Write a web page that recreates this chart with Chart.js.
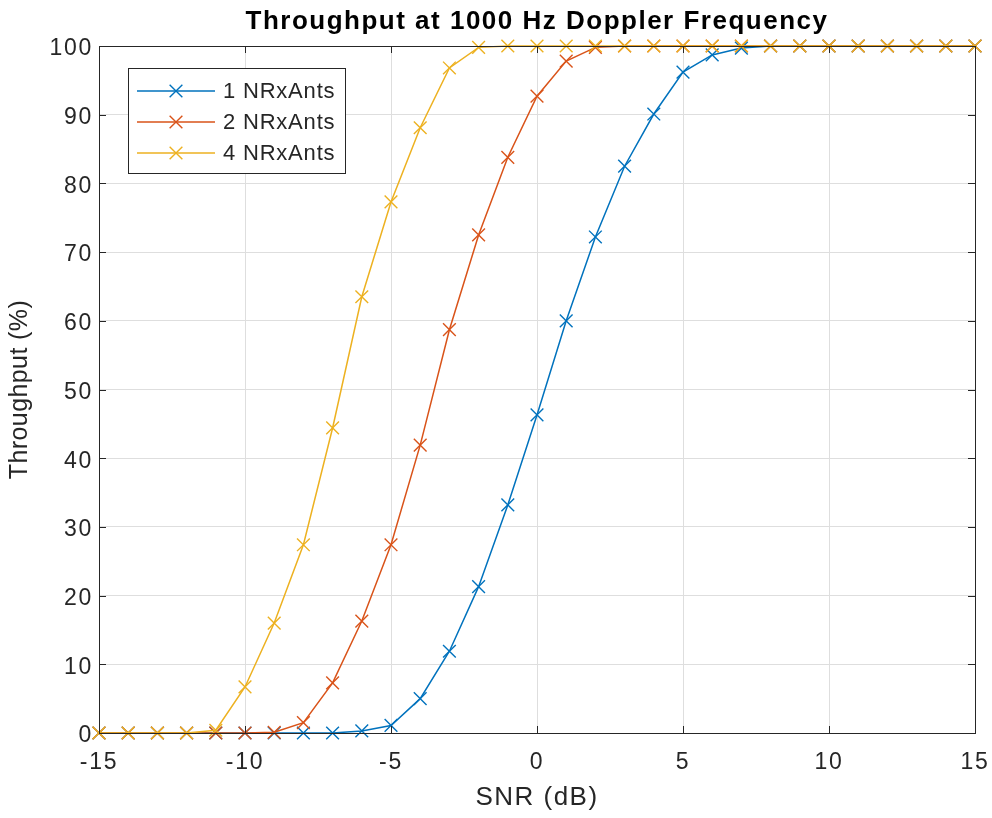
<!DOCTYPE html>
<html>
<head>
<meta charset="utf-8">
<script src="https://cdn.jsdelivr.net/npm/chart.js@4/dist/chart.umd.min.js"></script>
<style>
  html, body { margin: 0; padding: 0; background: #ffffff; }
  #wrap { width: 992px; height: 818px; position: relative; }
</style>
</head>
<body>
<div id="wrap"><canvas id="c" width="992" height="818"></canvas></div>
<script>
// ---- data ----
const snr = [-15,-14,-13,-12,-11,-10,-9,-8,-7,-6,-5,-4,-3,-2,-1,0,1,2,3,4,5,6,7,8,9,10,11,12,13,14,15];
const ant1 = [0,0,0,0,0,0,0,0,0,0.3,1.1,5.0,11.9,21.3,33.2,46.3,60.0,72.2,82.5,90.1,96.2,98.7,99.7,100,100,100,100,100,100,100,100];
const ant2 = [0,0,0,0,0,0,0.1,1.5,7.3,16.3,27.4,41.9,58.7,72.5,83.8,92.7,97.8,99.8,100,100,100,100,100,100,100,100,100,100,100,100,100];
const ant4 = [0,0,0,0,0.4,6.7,16.0,27.4,44.4,63.5,77.3,88.1,96.8,99.8,100,100,100,100,100,100,100,100,100,100,100,100,100,100,100,100,100];
const seriesNames = ['1 NRxAnts', '2 NRxAnts', '4 NRxAnts'];
const seriesColors = ['#0072BD', '#D95319', '#EDB120'];
const xTicks = [-15,-10,-5,0,5,10,15];
const yTicks = [0,10,20,30,40,50,60,70,80,90,100];

const FONT = "'Liberation Sans', Arial, sans-serif";
const TXT = '#262626';

function pts(ys) { return snr.map((x, i) => ({ x: x, y: ys[i] })); }
const allSeries = [ant1, ant2, ant4];

const datasets = allSeries.map((ys, i) => ({
  label: seriesNames[i],
  data: pts(ys),
  borderColor: seriesColors[i],
  backgroundColor: seriesColors[i],
  borderWidth: 1.5,
  pointStyle: 'crossRot',
  pointRadius: 9,
  pointBorderWidth: 1.4,
  pointHoverRadius: 9,
  tension: 0,
  fill: false,
  clip: false,
  order: 3 - i
}));

// widen text slightly (letter spacing) to match the reference rendering
const spacingPlugin = {
  id: 'spacingPlugin',
  beforeDraw(chart) {
    if (chart.$spacingWrapped) return;
    chart.$spacingWrapped = true;
    const wrap = (obj, name, sp) => {
      if (!obj || typeof obj[name] !== 'function') return;
      const orig = obj[name];
      obj[name] = function () {
        const c = chart.ctx;
        c.save();
        try { c.letterSpacing = sp; } catch (e) {}
        const r = orig.apply(this, arguments);
        c.restore();
        return r;
      };
    };
    wrap(chart.titleBlock, 'draw', '1.5px');
    wrap(chart.scales.x, 'drawTitle', '1.5px');
    wrap(chart.scales.y, 'drawTitle', '0.4px');
    wrap(chart.scales.x, 'drawLabels', '1.7px');
    wrap(chart.scales.y, 'drawLabels', '1.7px');
  }
};

const boxPlugin = {
  id: 'boxPlugin',
  afterDraw(chart) {
    const ctx = chart.ctx;
    const a = chart.chartArea;
    const xs = chart.scales.x, ys = chart.scales.y;
    ctx.save();
    ctx.strokeStyle = TXT;
    ctx.lineWidth = 1;
    // inward ticks
    ctx.beginPath();
    const tl = 7;
    xTicks.forEach(v => {
      const px = Math.round(xs.getPixelForValue(v)) + 0.5;
      ctx.moveTo(px, a.bottom); ctx.lineTo(px, a.bottom - tl);
      ctx.moveTo(px, a.top); ctx.lineTo(px, a.top + tl);
    });
    yTicks.forEach(v => {
      const py = Math.round(ys.getPixelForValue(v)) + 0.5;
      ctx.moveTo(a.left, py); ctx.lineTo(a.left + tl, py);
      ctx.moveTo(a.right, py); ctx.lineTo(a.right - tl, py);
    });
    ctx.stroke();
    // box
    ctx.strokeRect(Math.round(a.left) + 0.5, Math.round(a.top) + 0.5,
                   Math.round(a.right - a.left), Math.round(a.bottom - a.top));
    // legend
    const lx = 128, ly = 68, lw = 217, lh = 105;
    ctx.fillStyle = '#ffffff';
    ctx.fillRect(lx, ly, lw, lh);
    ctx.strokeStyle = TXT;
    ctx.strokeRect(lx + 0.5, ly + 0.5, lw, lh);
    ctx.font = '22px ' + FONT;
    try { ctx.letterSpacing = '0.8px'; } catch (e) {}
    ctx.textBaseline = 'middle';
    ctx.textAlign = 'left';
    const rowY = [ly + 23, ly + 54, ly + 85];
    seriesNames.forEach((name, i) => {
      const y = rowY[i];
      ctx.strokeStyle = seriesColors[i];
      ctx.lineWidth = 1.5;
      ctx.beginPath();
      ctx.moveTo(lx + 9, y); ctx.lineTo(lx + 87, y);
      ctx.stroke();
      const cx = lx + 48, r = 9 * Math.SQRT1_2;
      ctx.lineWidth = 1.4;
      ctx.beginPath();
      ctx.moveTo(cx - r, y - r); ctx.lineTo(cx + r, y + r);
      ctx.moveTo(cx - r, y + r); ctx.lineTo(cx + r, y - r);
      ctx.stroke();
      ctx.fillStyle = TXT;
      ctx.fillText(name, lx + 95, y + 1);
    });
    ctx.restore();
  }
};

new Chart(document.getElementById('c'), {
  type: 'line',
  data: { datasets: datasets },
  options: {
    responsive: false,
    animation: false,
    devicePixelRatio: 1,
    layout: { padding: { left: 0, right: 17, top: 0, bottom: 0 } },
    plugins: {
      legend: { display: false },
      tooltip: { enabled: false },
      title: {
        display: true,
        fullSize: false,
        text: 'Throughput at 1000 Hz Doppler Frequency',
        color: '#000000',
        font: { family: FONT, size: 26, weight: 'bold', lineHeight: 1.2 },
        padding: { top: 6, bottom: 8.8 }
      }
    },
    scales: {
      x: {
        type: 'linear',
        min: -15, max: 15,
        afterBuildTicks(scale) { scale.ticks = xTicks.map(v => ({ value: v })); },
        afterFit(scale) { scale.height = 85; scale.paddingLeft = 0; scale.paddingRight = 0; },
        grid: { color: '#dedede', lineWidth: 1, drawTicks: false },
        border: { display: false },
        ticks: { color: TXT, font: { family: FONT, size: 23, lineHeight: 1.2 }, padding: 16, maxRotation: 0, autoSkip: false },
        title: { display: true, text: 'SNR (dB)', color: TXT, font: { family: FONT, size: 26, lineHeight: 1.2 }, padding: { top: 0, bottom: 4.5 } }
      },
      y: {
        type: 'linear',
        min: 0, max: 100,
        afterBuildTicks(scale) { scale.ticks = yTicks.map(v => ({ value: v })); },
        afterFit(scale) { scale.width = 99; scale.paddingTop = 0; scale.paddingBottom = 0; },
        grid: { color: '#dedede', lineWidth: 1, drawTicks: false },
        border: { display: false },
        ticks: { color: TXT, font: { family: FONT, size: 23, lineHeight: 1.2 }, padding: 6, labelOffset: 3, autoSkip: false },
        title: { display: true, text: 'Throughput (%)', color: TXT, font: { family: FONT, size: 25, lineHeight: 1.2 }, padding: { top: 5, bottom: 0 } }
      }
    }
  },
  plugins: [spacingPlugin, boxPlugin]
});
</script>
</body>
</html>
